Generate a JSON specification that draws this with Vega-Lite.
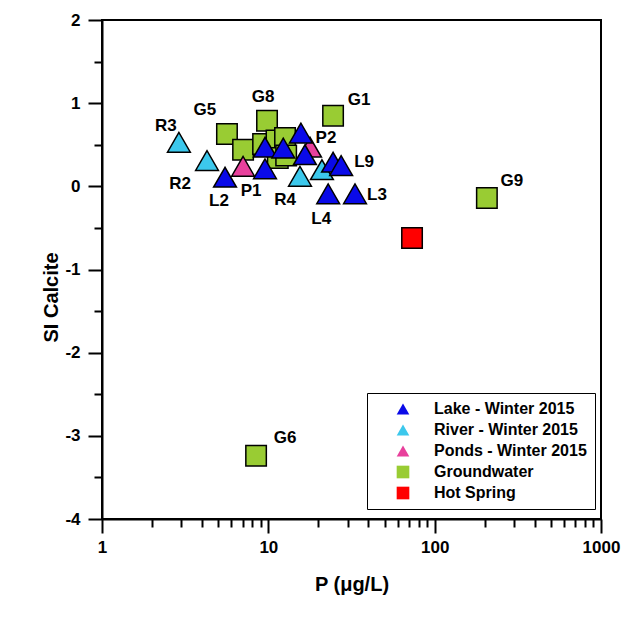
{
  "$schema": "https://vega.github.io/schema/vega-lite/v6.json",
  "autosize": {"type": "none"},
  "width": 499,
  "height": 499,
  "padding": {"left": 102, "top": 20, "right": 21, "bottom": 98},
  "background": "white",
  "config": {
    "view": {"stroke": "black", "strokeWidth": 2},
    "font": "Liberation Sans",
    "axis": {
      "domainColor": "black", "domainWidth": 2, "tickColor": "black", "tickWidth": 2,
      "labelFont": "Liberation Sans", "labelFontWeight": "bold", "labelFontSize": 17, "labelColor": "black",
      "titleFont": "Liberation Sans", "titleFontWeight": "bold", "titleFontSize": 20, "titleColor": "black",
      "grid": false
    }
  },
  "data": {
    "values": [
      {"site": "G5", "type": "Groundwater", "P": 5.64, "SI": 0.63},
      {"site": "", "type": "Groundwater", "P": 7.05, "SI": 0.44},
      {"site": "G8", "type": "Groundwater", "P": 9.82, "SI": 0.79},
      {"site": "", "type": "Groundwater", "P": 9.3, "SI": 0.51},
      {"site": "", "type": "Groundwater", "P": 11.2, "SI": 0.55},
      {"site": "", "type": "Groundwater", "P": 12.6, "SI": 0.58},
      {"site": "", "type": "Groundwater", "P": 11.4, "SI": 0.34},
      {"site": "", "type": "Groundwater", "P": 12.8, "SI": 0.37},
      {"site": "G1", "type": "Groundwater", "P": 24.5, "SI": 0.85},
      {"site": "G9", "type": "Groundwater", "P": 206, "SI": -0.14},
      {"site": "G6", "type": "Groundwater", "P": 8.44, "SI": -3.24},
      {"site": "", "type": "Hot Spring", "P": 73.1, "SI": -0.62},
      {"site": "R3", "type": "River - Winter 2015", "P": 2.9, "SI": 0.53},
      {"site": "R2", "type": "River - Winter 2015", "P": 4.28, "SI": 0.31},
      {"site": "R4", "type": "River - Winter 2015", "P": 15.5, "SI": 0.12},
      {"site": "", "type": "River - Winter 2015", "P": 21.0, "SI": 0.2},
      {"site": "P1", "type": "Ponds - Winter 2015", "P": 7.05, "SI": 0.24},
      {"site": "P2", "type": "Ponds - Winter 2015", "P": 17.8, "SI": 0.47},
      {"site": "L2", "type": "Lake - Winter 2015", "P": 5.49, "SI": 0.11},
      {"site": "", "type": "Lake - Winter 2015", "P": 9.55, "SI": 0.21},
      {"site": "", "type": "Lake - Winter 2015", "P": 9.55, "SI": 0.47},
      {"site": "", "type": "Lake - Winter 2015", "P": 12.3, "SI": 0.46},
      {"site": "", "type": "Lake - Winter 2015", "P": 15.7, "SI": 0.64},
      {"site": "", "type": "Lake - Winter 2015", "P": 16.6, "SI": 0.38},
      {"site": "", "type": "Lake - Winter 2015", "P": 24.5, "SI": 0.29},
      {"site": "L9", "type": "Lake - Winter 2015", "P": 27.4, "SI": 0.25},
      {"site": "L4", "type": "Lake - Winter 2015", "P": 22.9, "SI": -0.09},
      {"site": "L3", "type": "Lake - Winter 2015", "P": 33.2, "SI": -0.09}
    ]
  },
  "encoding": {
    "x": {
      "field": "P", "type": "quantitative", "title": "P (μg/L)",
      "scale": {"type": "log", "domain": [1, 1000], "nice": false},
      "axis": {
        "values": [1,2,3,4,5,6,7,8,9,10,20,30,40,50,60,70,80,90,100,200,300,400,500,600,700,800,900,1000],
        "format": "d",
        "labelExpr": "indexof([1,10,100,1000], datum.value) >= 0 ? datum.label : ''",
        "tickSize": {"condition": {"test": "indexof([1,10,100,1000], datum.value) >= 0", "value": 14}, "value": 8},
        "labelPadding": 6, "titlePadding": 19, "labelFlush": false, "labelOverlap": false
      }
    },
    "y": {
      "field": "SI", "type": "quantitative", "title": "SI Calcite",
      "scale": {"domain": [-4, 2], "nice": false, "zero": false},
      "axis": {
        "values": [-4,-3.5,-3,-2.5,-2,-1.5,-1,-0.5,0,0.5,1,1.5,2],
        "labelExpr": "datum.value % 1 == 0 ? (datum.value < 0 ? '-' + abs(datum.value) : '' + datum.value) : ''",
        "tickSize": {"condition": {"test": "datum.value % 1 == 0", "value": 14}, "value": 8},
        "labelPadding": 8, "labelOverlap": false, "labelFlush": false,
        "titleX": -41, "titleY": 277
      }
    }
  },
  "layer": [
    {
      "transform": [{"filter": "datum.type == 'Groundwater' || datum.type == 'Hot Spring'"}],
      "mark": {"type": "point", "filled": true, "size": 420, "stroke": "black", "strokeWidth": 1.5, "opacity": 1},
      "encoding": {
        "color": {"field": "type", "type": "nominal",
          "scale": {"domain": ["Lake - Winter 2015", "River - Winter 2015", "Ponds - Winter 2015", "Groundwater", "Hot Spring"],
                    "range": ["#0a0ae8", "#3cc8ec", "#e8409c", "#99cc33", "#ff0000"]},
          "legend": {"title": null, "orient": "none", "legendX": 265, "legendY": 373,
            "strokeColor": "black", "fillColor": "white", "padding": 8, "symbolOffset": 20,
            "labelOffset": 23, "rowPadding": 5, "symbolSize": 160, "symbolStrokeWidth": 0,
            "labelFont": "Liberation Sans", "labelFontWeight": "bold", "labelFontSize": 16, "labelColor": "black"}},
        "shape": {"field": "type", "type": "nominal",
          "scale": {"domain": ["Lake - Winter 2015", "River - Winter 2015", "Ponds - Winter 2015", "Groundwater", "Hot Spring"],
                    "range": ["triangle-up", "triangle-up", "triangle-up", "square", "square"]}}
      }
    },
    {
      "transform": [{"filter": "datum.type != 'Groundwater' && datum.type != 'Hot Spring'"}],
      "mark": {"type": "point", "filled": true, "size": 520, "stroke": "black", "strokeWidth": 1.5, "opacity": 1},
      "encoding": {
        "color": {"field": "type", "type": "nominal"},
        "shape": {"field": "type", "type": "nominal"}
      }
    },
    {"transform": [{"filter": "datum.site == 'R3'"}], "mark": {"type": "text", "dx": -13, "dy": -16, "font": "Liberation Sans", "fontWeight": "bold", "fontSize": 17, "color": "black"}, "encoding": {"text": {"field": "site"}}},
    {"transform": [{"filter": "datum.site == 'G5'"}], "mark": {"type": "text", "dx": -22, "dy": -24, "font": "Liberation Sans", "fontWeight": "bold", "fontSize": 17, "color": "black"}, "encoding": {"text": {"field": "site"}}},
    {"transform": [{"filter": "datum.site == 'G8'"}], "mark": {"type": "text", "dx": -4, "dy": -24, "font": "Liberation Sans", "fontWeight": "bold", "fontSize": 17, "color": "black"}, "encoding": {"text": {"field": "site"}}},
    {"transform": [{"filter": "datum.site == 'G1'"}], "mark": {"type": "text", "dx": 26, "dy": -16, "font": "Liberation Sans", "fontWeight": "bold", "fontSize": 17, "color": "black"}, "encoding": {"text": {"field": "site"}}},
    {"transform": [{"filter": "datum.site == 'G9'"}], "mark": {"type": "text", "dx": 25, "dy": -17, "font": "Liberation Sans", "fontWeight": "bold", "fontSize": 17, "color": "black"}, "encoding": {"text": {"field": "site"}}},
    {"transform": [{"filter": "datum.site == 'G6'"}], "mark": {"type": "text", "dx": 29, "dy": -18, "font": "Liberation Sans", "fontWeight": "bold", "fontSize": 17, "color": "black"}, "encoding": {"text": {"field": "site"}}},
    {"transform": [{"filter": "datum.site == 'P2'"}], "mark": {"type": "text", "dx": 16, "dy": -9, "font": "Liberation Sans", "fontWeight": "bold", "fontSize": 17, "color": "black"}, "encoding": {"text": {"field": "site"}}},
    {"transform": [{"filter": "datum.site == 'L9'"}], "mark": {"type": "text", "dx": 23, "dy": -4, "font": "Liberation Sans", "fontWeight": "bold", "fontSize": 17, "color": "black"}, "encoding": {"text": {"field": "site"}}},
    {"transform": [{"filter": "datum.site == 'L3'"}], "mark": {"type": "text", "dx": 22, "dy": 1, "font": "Liberation Sans", "fontWeight": "bold", "fontSize": 17, "color": "black"}, "encoding": {"text": {"field": "site"}}},
    {"transform": [{"filter": "datum.site == 'L4'"}], "mark": {"type": "text", "dx": -7, "dy": 25, "font": "Liberation Sans", "fontWeight": "bold", "fontSize": 17, "color": "black"}, "encoding": {"text": {"field": "site"}}},
    {"transform": [{"filter": "datum.site == 'R4'"}], "mark": {"type": "text", "dx": -15, "dy": 24, "font": "Liberation Sans", "fontWeight": "bold", "fontSize": 17, "color": "black"}, "encoding": {"text": {"field": "site"}}},
    {"transform": [{"filter": "datum.site == 'P1'"}], "mark": {"type": "text", "dx": 8, "dy": 25, "font": "Liberation Sans", "fontWeight": "bold", "fontSize": 17, "color": "black"}, "encoding": {"text": {"field": "site"}}},
    {"transform": [{"filter": "datum.site == 'L2'"}], "mark": {"type": "text", "dx": -6, "dy": 24, "font": "Liberation Sans", "fontWeight": "bold", "fontSize": 17, "color": "black"}, "encoding": {"text": {"field": "site"}}},
    {"transform": [{"filter": "datum.site == 'R2'"}], "mark": {"type": "text", "dx": -27, "dy": 23, "font": "Liberation Sans", "fontWeight": "bold", "fontSize": 17, "color": "black"}, "encoding": {"text": {"field": "site"}}}
  ]
}
